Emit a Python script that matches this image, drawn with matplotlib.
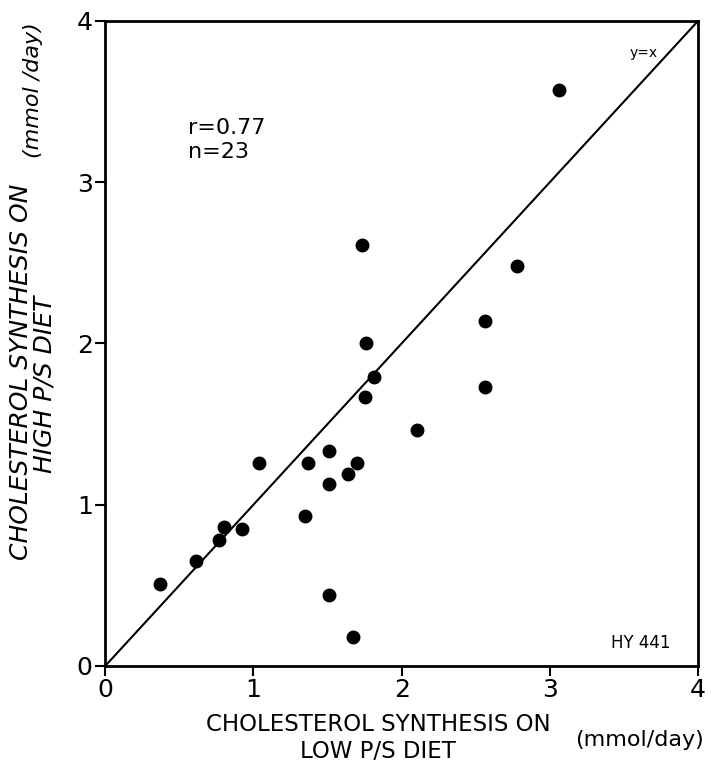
import matplotlib
matplotlib.use('Agg')
from matplotlib import pyplot as plt

# cholesterol synthesis (mmol/day), low P/S diet vs high P/S diet
low_ps = [1.73, 1.76, 1.81, 1.75, 2.10, 1.51, 1.37, 1.70, 1.64, 1.51, 1.35, 1.51, 1.67,
          1.04, 0.37, 0.61, 0.80, 0.77, 0.92,
          3.06, 2.78, 2.56, 2.56]
high_ps = [2.61, 2.00, 1.79, 1.67, 1.46, 1.33, 1.26, 1.26, 1.19, 1.13, 0.93, 0.44, 0.18,
           1.26, 0.51, 0.65, 0.86, 0.78, 0.85,
           3.57, 2.48, 2.14, 1.73]
ticks = [0, 1, 2, 3, 4]

plt.rcParams['font.family'] = ['DejaVu Sans Condensed', 'Liberation Sans Narrow', 'DejaVu Sans']

fig = plt.figure(figsize=(7.11, 7.69), dpi=100)
ax = fig.add_axes([0.148, 0.134, 0.834, 0.839])

ax.plot([0, 4], [0, 4], color='black', lw=1.5)
ax.plot(low_ps, high_ps, 'o', color='black', markersize=9)

ax.set_xlim(0, 4)
ax.set_ylim(0, 4)
ax.set_xticks(ticks)
ax.set_yticks(ticks)
ax.tick_params(direction='out', length=7, width=1.5, labelsize=18, pad=2)
for s in ax.spines.values():
    s.set_linewidth(2)

ax.text(0.56, 3.26, 'r=0.77\nn=23', fontsize=16, linespacing=1.25, va='center')
ax.text(3.73, 3.80, 'y=x', fontsize=10, ha='right', va='center')
ax.text(3.81, 0.14, 'HY 441', fontsize=12, ha='right', va='center')

fig.text(0.532, 0.04, 'CHOLESTEROL SYNTHESIS ON\nLOW P/S DIET', fontsize=16.5,
         ha='center', va='center', linespacing=1.2)
fig.text(0.9, 0.038, '(mmol/day)', fontsize=16, ha='center', va='center')
fig.text(0.029, 0.516, 'CHOLESTEROL SYNTHESIS ON', fontsize=18,
         style='italic', rotation=90, ha='center', va='center')
fig.text(0.063, 0.50, 'HIGH P/S DIET', fontsize=18,
         style='italic', rotation=90, ha='center', va='center')
fig.text(0.047, 0.883, '(mmol /day)', fontsize=16, style='italic', rotation=90,
         ha='center', va='center')

fig.savefig('out.png', dpi=100)
